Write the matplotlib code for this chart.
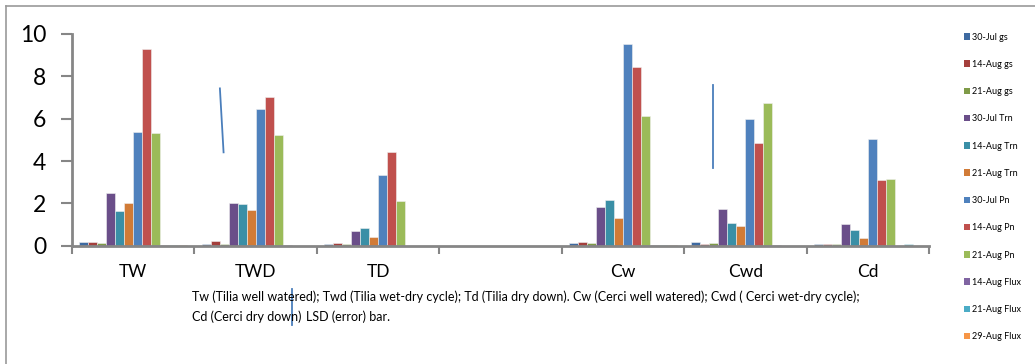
import matplotlib
matplotlib.use("Agg")
import matplotlib.pyplot as plt
import numpy as np
from matplotlib.lines import Line2D
from matplotlib.patches import Patch

plt.rcParams["font.family"] = ["Lato", "DejaVu Sans"]

# categories (4th slot is an empty spacer in the original)
categories = ["TW", "TWD", "TD", "", "Cw", "Cwd", "Cd"]

series_names = [
    "30-Jul gs", "14-Aug gs", "21-Aug gs",
    "30-Jul Trn", "14-Aug Trn", "21-Aug Trn",
    "30-Jul Pn", "14-Aug Pn", "21-Aug Pn",
    "14-Aug Flux", "21-Aug Flux", "29-Aug Flux",
]
series_colors = [
    "#3E6AA1", "#A43F3C", "#7F9B48",
    "#6A4E89", "#3A8FA6", "#D17B37",
    "#4F81BD", "#C0504D", "#9BBB59",
    "#8064A2", "#4BACC6", "#F79646",
]

# values, one list per series (order follows categories)
gs_30jul = [0.16, 0.10, 0.07, 0, 0.13, 0.17, 0.10]
gs_14aug = [0.16, 0.20, 0.12, 0, 0.17, 0.10, 0.07]
gs_21aug = [0.11, 0.08, 0.07, 0, 0.12, 0.12, 0.06]
trn_30jul = [2.49, 2.01, 0.68, 0, 1.81, 1.73, 1.01]
trn_14aug = [1.65, 1.98, 0.82, 0, 2.14, 1.06, 0.73]
trn_21aug = [2.02, 1.67, 0.40, 0, 1.31, 0.92, 0.35]
pn_30jul = [5.39, 6.45, 3.34, 0, 9.51, 6.00, 5.06]
pn_14aug = [9.31, 7.02, 4.41, 0, 8.44, 4.84, 3.10]
pn_21aug = [5.32, 5.22, 2.10, 0, 6.11, 6.73, 3.15]
flux_14aug = [0.03, 0.02, 0.0, 0, 0.05, 0.02, 0.0]
flux_21aug = [0.03, 0.0, 0.0, 0, 0.04, 0.0, 0.07]
flux_29aug = [0.02, 0.0, 0.0, 0, 0.02, 0.0, 0.0]

all_series = [
    gs_30jul, gs_14aug, gs_21aug,
    trn_30jul, trn_14aug, trn_21aug,
    pn_30jul, pn_14aug, pn_21aug,
    flux_14aug, flux_21aug, flux_29aug,
]

# LSD (error) bars drawn as lines: category, x offset top/bottom, y top/bottom
lsd_cat = [1, 5]
lsd_dx_top = [-0.292, -0.265]
lsd_dx_bot = [-0.262, -0.265]
lsd_top = [7.43, 7.59]
lsd_bot = [4.41, 3.66]

caption_1 = ("Tw (Tilia well watered); Twd (Tilia wet-dry cycle); Td (Tilia dry down). "
             "Cw (Cerci well watered); Cwd ( Cerci wet-dry cycle);")
caption_2a = "Cd (Cerci dry down)"
caption_2b = "LSD (error) bar."

fig = plt.figure(figsize=(10.35, 3.64), dpi=100)
W, H = 1035, 364
ax = fig.add_axes([72 / W, 1 - 245.7 / H, 857 / W, 211.7 / H])

n = len(series_names)
bw = 9 / 122.5
x = np.arange(len(categories))
for i, (vals, name, col) in enumerate(zip(all_series, series_names, series_colors)):
    pos = x + (i - (n - 1) / 2) * bw
    ax.bar(pos, vals, width=bw, color=col, edgecolor="#f0f0f0", linewidth=0.4, label=name)

for c, dt, db, yt, yb in zip(lsd_cat, lsd_dx_top, lsd_dx_bot, lsd_top, lsd_bot):
    ax.plot([c + dt, c + db], [yt, yb], color="#4A7EBB", lw=1.3)

ax.set_xlim(-0.5, len(categories) - 0.5)
ax.set_ylim(0, 10)
ax.set_yticks([0, 2, 4, 6, 8, 10])
ax.set_xticks(x)
ax.set_xticklabels(categories, fontsize=12.5)
ax.set_xticks(np.arange(len(categories) + 1) - 0.5, minor=True)
ax.tick_params(axis="x", which="major", length=0, pad=13.5)
ax.tick_params(axis="x", which="minor", length=6, width=1.5, color="#868686", direction="out")
ax.tick_params(axis="y", labelsize=16.5, length=8, width=1.5, color="#868686", pad=10.5)

for s in ["top", "right"]:
    ax.spines[s].set_visible(False)
for s in ["left", "bottom"]:
    ax.spines[s].set_color("#868686")
    ax.spines[s].set_linewidth(2)

# outer chart frame (only top and left edges visible in the crop)
fig.add_artist(Line2D([6 / W, 6 / W], [0, 1 - 6 / H], color="#9A9A9A", lw=1.2))
fig.add_artist(Line2D([6 / W, 1], [1 - 6 / H, 1 - 6 / H], color="#9A9A9A", lw=1.2))

handles = [Patch(facecolor=c) for c in series_colors]
fig.legend(handles, series_names, loc="upper left", bbox_to_anchor=(960 / W, 1 - 29 / H),
           frameon=False, fontsize=6.5, handlelength=0.75, handleheight=0.75,
           handletextpad=0.15, labelspacing=2.02, borderaxespad=0)

fig.text(192 / W, 1 - 297 / H, caption_1, fontsize=9, va="center", ha="left")
fig.text(192 / W, 1 - 317 / H, caption_2a, fontsize=9, va="center", ha="left")
fig.text(306 / W, 1 - 317 / H, caption_2b, fontsize=9, va="center", ha="left")
fig.add_artist(Line2D([292 / W, 292 / W], [1 - 289 / H, 1 - 325 / H], color="#4A7EBB", lw=1.3))

fig.savefig("out.png", dpi=100)
